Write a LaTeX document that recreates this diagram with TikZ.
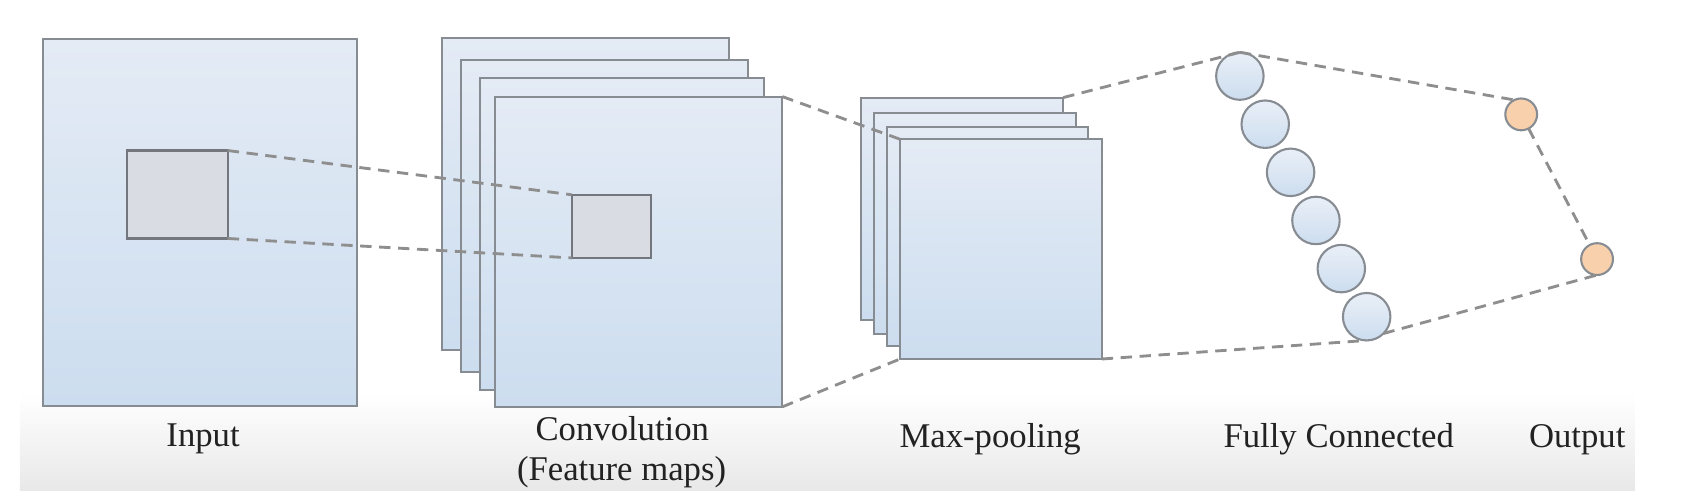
\documentclass[tikz,border=0pt]{standalone}
\usepackage{fontspec}
\setmainfont{Liberation Serif}
\usetikzlibrary{fit}
\definecolor{boxtop}{HTML}{E4EBF5}
\definecolor{boxbot}{HTML}{CCDDEF}
\definecolor{edgec}{HTML}{878C93}
\definecolor{patchc}{HTML}{DADCE4}
\definecolor{peach}{HTML}{F8D1AC}
\definecolor{dashc}{HTML}{8E8E8E}
\definecolor{bandbot}{HTML}{E8E8E8}
\definecolor{txtc}{HTML}{222222}
\begin{document}
\begin{tikzpicture}[x=0.02cm,y=-0.02cm,
  sheet/.style={draw=edgec, line width=1.1pt, top color=boxtop, bottom color=boxbot, inner sep=0pt, outer sep=0pt},
  patchbox/.style={draw=edgec!85!black, line width=1.1pt, fill=patchc, inner sep=0pt, outer sep=0pt},
  neuron/.style={circle, draw=edgec, line width=1.1pt, top color=boxtop!80!white, bottom color=boxbot, minimum size=0.88cm, inner sep=0pt, outer sep=0pt},
  outn/.style={circle, draw=edgec, line width=1.1pt, fill=peach, minimum size=0.59cm, inner sep=0pt, outer sep=0pt},
  link/.style={draw=dashc, line width=1.5pt, dash pattern=on 6pt off 4pt},
  lbl/.style={font=\fontsize{18.3}{22}\selectfont, text=txtc, inner sep=0pt, anchor=base}
]
\useasboundingbox (0,0) rectangle (1568,460);
% screenshot band
\fill[top color=white, bottom color=bandbot] (18.5,365) rectangle (1515,455);

% input
\node[sheet, fit={(40,36) (331,376.5)}] (inp) {};
\node[patchbox, fit={(118,139.5) (211,221)}] (ip) {};

% convolution stack
\node[sheet, fit={(409.6,35.5) (675.5,324.7)}] (cv1) {};
\node[sheet, fit={(427.6,55.6) (693,344.8)}] (cv2) {};
\node[sheet, fit={(444.7,72) (708,361)}] (cv3) {};
\node[sheet, fit={(459,89.5) (725,377)}] (cv4) {};
\node[patchbox, fit={(529.8,180.5) (603.6,239)}] (cp) {};

% max-pooling stack
\node[sheet, fit={(798,90.4) (985.3,296.3)}] (mp1) {};
\node[sheet, fit={(810.2,105) (997.4,309.6)}] (mp2) {};
\node[sheet, fit={(821.8,117.3) (1008,321)}] (mp3) {};
\node[sheet, fit={(834,129) (1021,332.7)}] (mp4) {};

% fully connected
\node[neuron] (c1) at (1149,70.5) {};
\node[neuron] (c2) at (1172.5,115.1) {};
\node[neuron] (c3) at (1196,159.7) {};
\node[neuron] (c4) at (1219.5,204.3) {};
\node[neuron] (c5) at (1243,248.9) {};
\node[neuron] (c6) at (1266.5,293.5) {};

% output
\node[outn] (o1) at (1409.7,106) {};
\node[outn] (o2) at (1480,240.1) {};

% connectors
\draw[link] (ip.north east) -- (cp.north west);
\draw[link] (ip.south east) -- (cp.south west);
\draw[link] (cv4.north east) -- (mp4.north west);
\draw[link] (cv4.south east) -- (mp4.south west);
\draw[link] (mp1.north east) -- (c1.north);
\draw[link] (mp4.south east) -- (c6.south);
\draw[link] (c1.north) -- (o1.115);
\draw[link] (c6.-45) -- (o2.south);
\draw[link] (o1) -- (o2);

% labels
\node[lbl] (tin) at (188.2,414) {Input};
\node[lbl] (tcv) at (576.7,408) {Convolution};
\node[lbl] (tfm) at (576,445.6) {(Feature maps)};
\node[lbl] (tmp) at (917.6,414.7) {Max-pooling};
\node[lbl] (tfc) at (1240.6,414.7) {Fully Connected};
\node[lbl] (tout) at (1461.6,414.7) {Output};
\end{tikzpicture}
\end{document}
